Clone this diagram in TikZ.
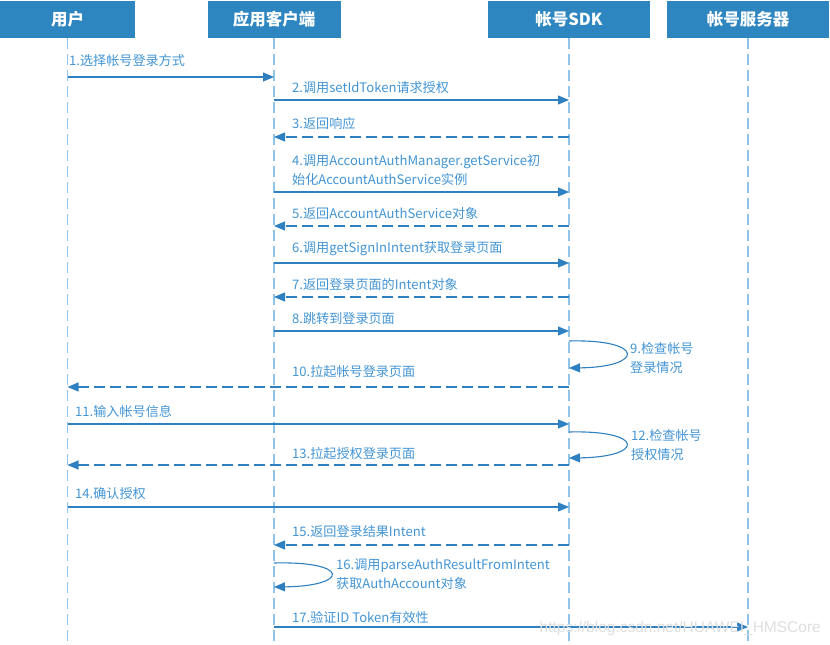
\documentclass[tikz,border=0pt]{standalone}
\usepackage{fontspec}
\setmainfont{Noto Sans CJK SC}
\newfontfamily\wmfont{Liberation Sans}
\usetikzlibrary{arrows.meta}
\definecolor{headblue}{RGB}{46,134,193}
\definecolor{linblue}{RGB}{46,128,192}
\definecolor{txtblue}{RGB}{66,148,212}
\definecolor{lifeblue}{RGB}{143,196,232}
\tikzset{
  head/.style={fill=headblue, text=white, font=\fontsize{16.5}{18}\selectfont\bfseries, minimum height=37pt, inner sep=0pt},
  lifeline/.style={draw=lifeblue, line width=1.8pt, dash pattern=on 11pt off 5pt},
  msg/.style={draw=linblue, line width=1.1pt, -{Triangle[length=11pt,width=9pt]}},
  ret/.style={msg, dash pattern=on 11pt off 5pt},
  lbl/.style={text=txtblue, font=\fontsize{13.1}{19}\selectfont, anchor=west, inner sep=0pt, align=left},
}
\begin{document}
\begin{tikzpicture}[x=1pt,y=-1pt]
\useasboundingbox (0,0) rectangle (830,645);
% headers
\node[head, minimum width=135pt] (user) at (67.5,19.5) {用户};
\node[head, minimum width=133pt] (app) at (274,19.5) {应用客户端};
\node[head, minimum width=162pt] (sdk) at (569,19.5) {帐号SDK};
\node[head, minimum width=162pt] (srv) at (748,19.5) {帐号服务器};
% lifelines
\coordinate (userend) at (user.south |- 0,645);
\coordinate (append) at (app.south |- 0,645);
\coordinate (sdkend) at (sdk.south |- 0,645);
\coordinate (srvend) at (srv.south |- 0,645);
\draw[lifeline] (user.south) -- (userend);
\draw[lifeline] (app.south) -- (append);
\draw[lifeline] (sdk.south) -- (sdkend);
\draw[lifeline] (srv.south) -- (srvend);
% messages
\draw[msg] (user.south |- 0,77) -- (app.south |- 0,77);
\node[lbl] (l1) at (69,61) {1.选择帐号登录方式};
\draw[msg] (app.south |- 0,100) -- (sdk.south |- 0,100);
\node[lbl] (l2) at (292,88) {2.调用setIdToken请求授权};
\draw[ret] (sdk.south |- 0,137) -- (app.south |- 0,137);
\node[lbl] (l3) at (292,124) {3.返回响应};
\draw[msg] (app.south |- 0,192) -- (sdk.south |- 0,192);
\node[lbl] (l4) at (292,170.5) {4.调用AccountAuthManager.getService初\\始化AccountAuthService实例};
\draw[ret] (sdk.south |- 0,226) -- (app.south |- 0,226);
\node[lbl] (l5) at (292,213) {5.返回AccountAuthService对象};
\draw[msg] (app.south |- 0,263) -- (sdk.south |- 0,263);
\node[lbl] (l6) at (292,249) {6.调用getSignInIntent获取登录页面};
\draw[ret] (sdk.south |- 0,297) -- (app.south |- 0,297);
\node[lbl] (l7) at (292,285) {7.返回登录页面的Intent对象};
\draw[msg] (app.south |- 0,331) -- (sdk.south |- 0,331);
\node[lbl] (l8) at (292,319) {8.跳转到登录页面};
\draw[msg] (sdk.south |- 0,341) .. controls (645,339) and (645,367) .. (sdk.south |- 0,368);
\node[lbl] (l9) at (630,357.5) {9.检查帐号\\登录情况};
\draw[ret] (sdk.south |- 0,387) -- (user.south |- 0,387);
\node[lbl] (l10) at (292,372) {10.拉起帐号登录页面};
\draw[msg] (user.south |- 0,424) -- (sdk.south |- 0,424);
\node[lbl] (l11) at (75,411) {11.输入帐号信息};
\draw[msg] (sdk.south |- 0,432) .. controls (645,430) and (645,457) .. (sdk.south |- 0,458);
\node[lbl] (l12) at (631,445) {12.检查帐号\\授权情况};
\draw[ret] (sdk.south |- 0,465) -- (user.south |- 0,465);
\node[lbl] (l13) at (292,454) {13.拉起授权登录页面};
\draw[msg] (user.south |- 0,507) -- (sdk.south |- 0,507);
\node[lbl] (l14) at (75,494) {14.确认授权};
\draw[ret] (sdk.south |- 0,545) -- (app.south |- 0,545);
\node[lbl] (l15) at (292,532) {15.返回登录结果Intent};
\draw[msg] (app.south |- 0,563) .. controls (350,561) and (350,586) .. (app.south |- 0,587);
\node[lbl] (l16) at (336,574.5) {16.调用parseAuthResultFromIntent\\获取AuthAccount对象};
\draw[msg] (app.south |- 0,627) -- (srv.south |- 0,627);
\node[lbl] (l17) at (292,617) {17.验证ID Token有效性};
% watermark
\node[text=black!13, font=\wmfont\fontsize{15.5}{17}\selectfont, anchor=east, inner sep=0pt] (wm) at (821,628) {https://blog.csdn.net/HUAWEI\_HMSCore};
\end{tikzpicture}
\end{document}
